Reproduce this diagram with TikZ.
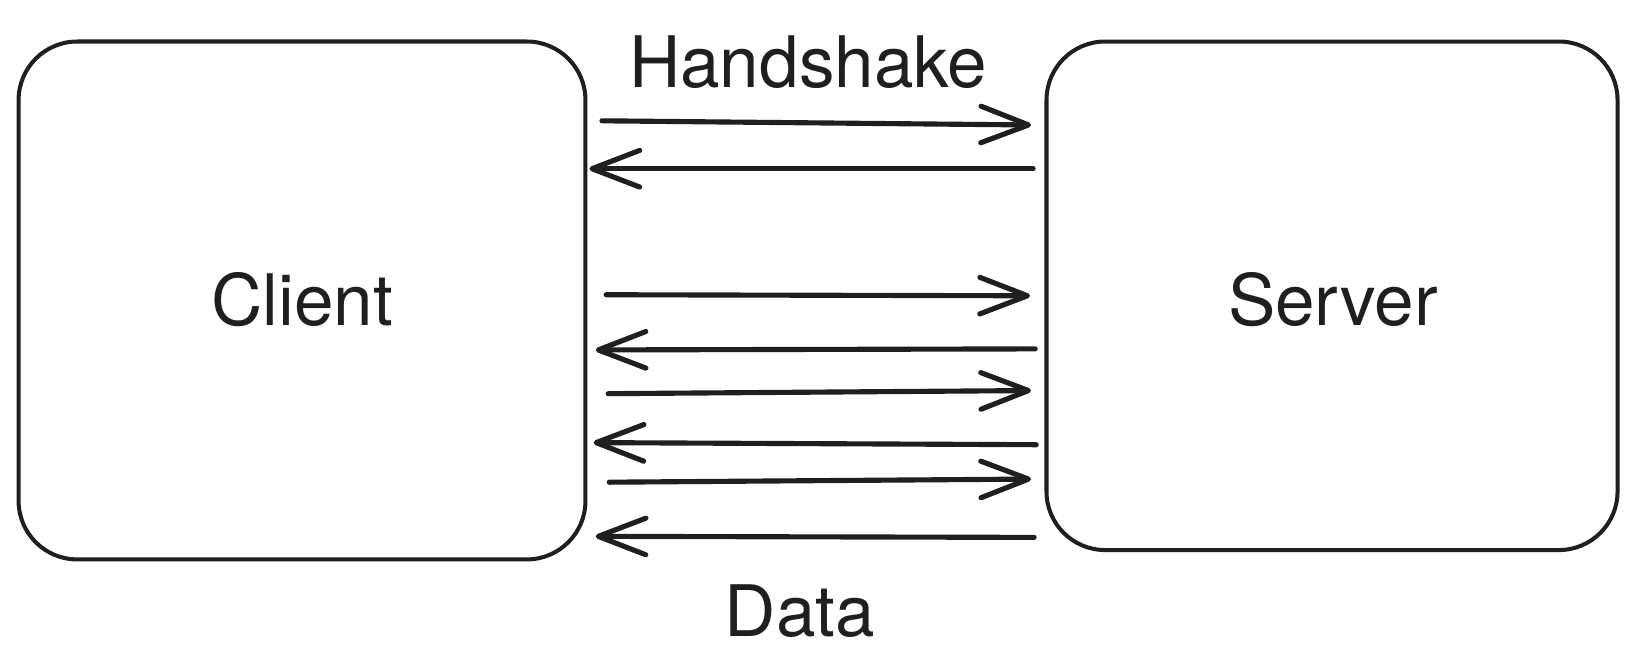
\documentclass[tikz,border=0pt]{standalone}
\usepackage{fontspec}
\setmainfont{TeX Gyre Heros}
\usetikzlibrary{arrows.meta}
\begin{document}
\begin{tikzpicture}[x=0.01cm,y=-0.01cm,
  box/.style={draw=black!88, line width=1.1pt, rounded corners=16pt, inner sep=0pt},
  lbl/.style={font=\fontsize{19.4}{23}\selectfont, text=black!88, inner sep=0pt, anchor=base},
  msg/.style={draw=black!88, line width=1.4pt, line cap=round,
    -{Straight Barb[length=13pt,width=10pt,line width=1.4pt,round]}}]
\useasboundingbox (0,0) rectangle (1568,645);
\node[box, minimum width=5.44cm, minimum height=4.97cm] (client) at (290,288.5) {};
\node[box, minimum width=5.48cm, minimum height=4.88cm] (server) at (1279,284) {};
\node[lbl] (clientlbl) at (290,313) {Client};
\node[lbl] (serverlbl) at (1280,313) {Server};
\node[lbl] (hs) at (776,84) {Handshake};
\node[lbl] (data) at (768,611) {Data};
\coordinate (a1) at (578,116); \coordinate (b1) at (990,120);
\coordinate (a2) at (992,162); \coordinate (b2) at (566,162);
\coordinate (a3) at (582,283); \coordinate (b3) at (989,284);
\coordinate (a4) at (994,335); \coordinate (b4) at (572,336);
\coordinate (a5) at (584,378); \coordinate (b5) at (990,375);
\coordinate (a6) at (995,427); \coordinate (b6) at (570,425);
\coordinate (a7) at (585,463); \coordinate (b7) at (990,460);
\coordinate (a8) at (993,516); \coordinate (b8) at (572,515);
\foreach \i in {1,...,8} { \draw[msg] (a\i) -- (b\i); }
\end{tikzpicture}
\end{document}
